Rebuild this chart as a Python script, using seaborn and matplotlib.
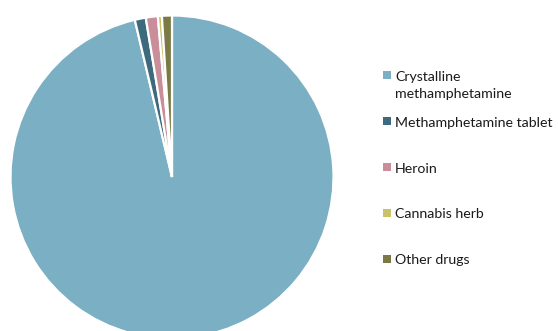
import matplotlib
matplotlib.use("Agg")
import matplotlib.pyplot as plt
from matplotlib.patches import Rectangle
import seaborn as sns

categories = ["Crystalline\nmethamphetamine", "Methamphetamine tablet",
              "Heroin", "Cannabis herb", "Other drugs"]
shares = [96.3, 1.1, 1.2, 0.4, 1.0]
palette = ["#7BAFC4", "#3D6B7D", "#C98E99", "#C9C26A", "#7B7A47"]

sns.set_theme(style="white")
plt.rcParams["font.family"] = ["Lato", "DejaVu Sans"]

W, H, dpi = 558, 331, 100
fig = plt.figure(figsize=(W / dpi, H / dpi), dpi=dpi)
ax = fig.add_axes([0, 0, 1, 1])

ax.pie(shares, colors=palette, startangle=90, counterclock=False,
       wedgeprops=dict(edgecolor="white", linewidth=1.6))

# pie centre and radius in pixels
cx, cy, r = 172, 177, 161.5
ax.set_xlim(-cx / r, (W - cx) / r)
ax.set_ylim(-(H - cy) / r, cy / r)
ax.set_aspect("auto")
ax.axis("off")

# legend: evenly spaced entries, marker aligned with the first text line
key_x, text_x = 383, 395
first_y, step, box = 75.5, 45.75, 8
for i, (label, color) in enumerate(zip(categories, palette)):
    y = first_y + i * step
    fig.patches.append(Rectangle((key_x / W, 1 - (y + box / 2) / H),
                                 box / W, box / H, facecolor=color,
                                 edgecolor="none", transform=fig.transFigure))
    lines = label.split("\n")
    for j, line in enumerate(lines):
        fig.text(text_x / W, 1 - (y + 5.5 + 17 * j) / H, line,
                 ha="left", va="baseline", fontsize=10.2, color="#1a1a1a")

fig.savefig("out.png", dpi=dpi)
